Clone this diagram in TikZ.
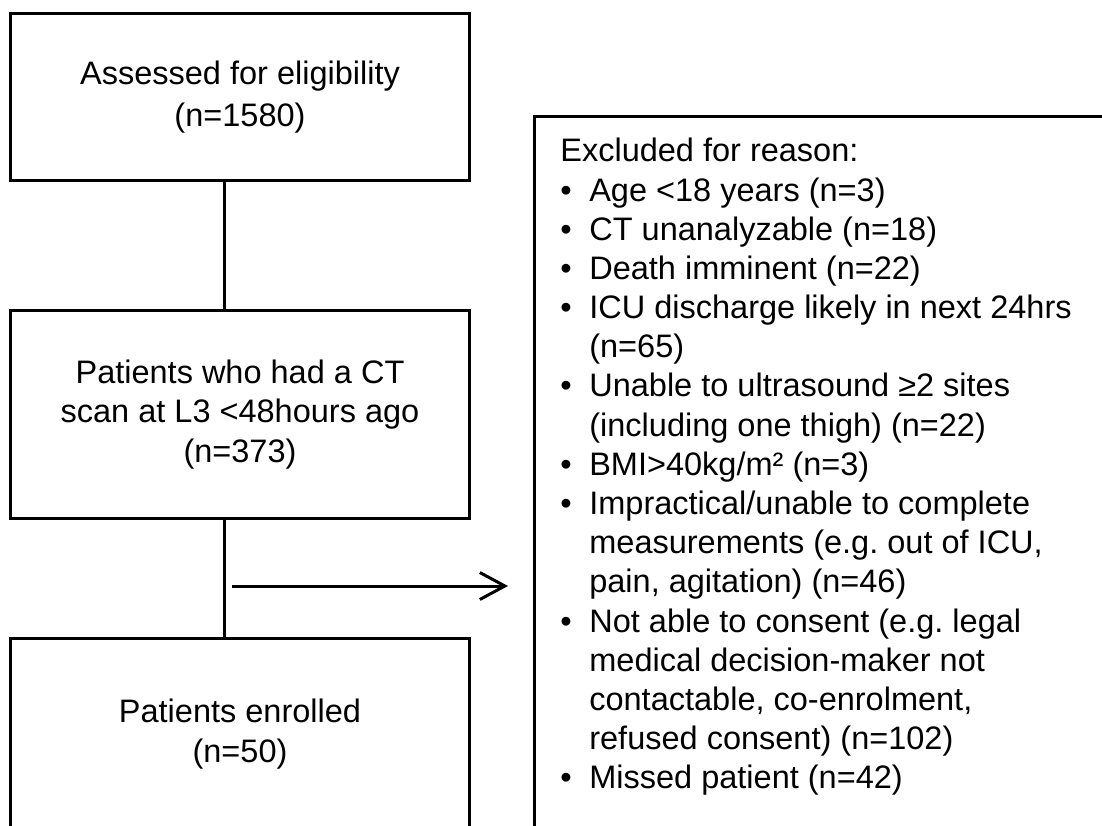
\documentclass[tikz,border=0pt]{standalone}
\usepackage{fontspec}
\setmainfont{Liberation Sans}
\usepackage{tikz}
\usetikzlibrary{arrows.meta,calc,positioning}
\frenchspacing
\tikzstyle{edge}  =[line width=0.06cm]
\tikzstyle{boxed} =[draw, rectangle, line width=0.06cm, minimum width=9.2cm,
                    align=center, inner sep=0pt]
\newcommand{\bul}{\makebox[0.58cm][l]{\textbullet}}
\newcommand{\ind}{\hspace*{0.58cm}}

\begin{document}
\begin{tikzpicture}[x=0.02cm, y=-0.02cm,
        every node/.style = {font=\fontsize{18.5}{22.3}\selectfont}]
    \useasboundingbox (0,0) rectangle (1102,825);
    \clip (0,0) rectangle (1102,825);
    % left column
    \node (1) [boxed, minimum height=3.36cm] at (240,97)
        {Assessed for eligibility\\[2pt](n=1580)};
    \node (2) [boxed, minimum height=4.18cm] at (240,414.5)
        {Patients who had a CT\\scan at L3 <48hours ago\\(n=373)};
    \node (3) [boxed, minimum height=3.84cm] at (240,734)
        {Patients enrolled\\(n=50)};
    % exclusion box
    \node (4) [draw, line width=0.06cm, anchor=north west, minimum width=12cm,
        minimum height=15cm] at (533,115) {};
    \node (4t) [anchor=north west, align=left, inner sep=0pt] at (560,138)
        {Excluded for reason:\\
         \bul Age <18 years (n=3)\\
         \bul CT unanalyzable (n=18)\\
         \bul Death imminent (n=22)\\
         \bul ICU discharge likely in next 24hrs\\
         \ind (n=65)\\
         \bul Unable to ultrasound ≥2 sites\\
         \ind (including one thigh) (n=22)\\
         \bul BMI>40kg/m² (n=3)\\
         \bul Impractical/unable to complete\\
         \ind measurements (e.g. out of ICU,\\
         \ind pain, agitation) (n=46)\\
         \bul Not able to consent (e.g. legal\\
         \ind medical decision-maker not\\
         \ind contactable, co-enrolment,\\
         \ind refused consent) (n=102)\\
         \bul Missed patient (n=42)};
    % connectors
    \coordinate (s) at (224,586);
    \draw [edge, -{Straight Barb[length=0.5cm, width=0.54cm, line width=0.06cm]},
        shorten <=0.16cm, shorten >=0.5cm] (s) to (4.west |- s);
    \draw [edge] (1.south -| s) to (2.north -| s);
    \draw [edge] (2.south -| s) to (3.north -| s);
\end{tikzpicture}
\end{document}
